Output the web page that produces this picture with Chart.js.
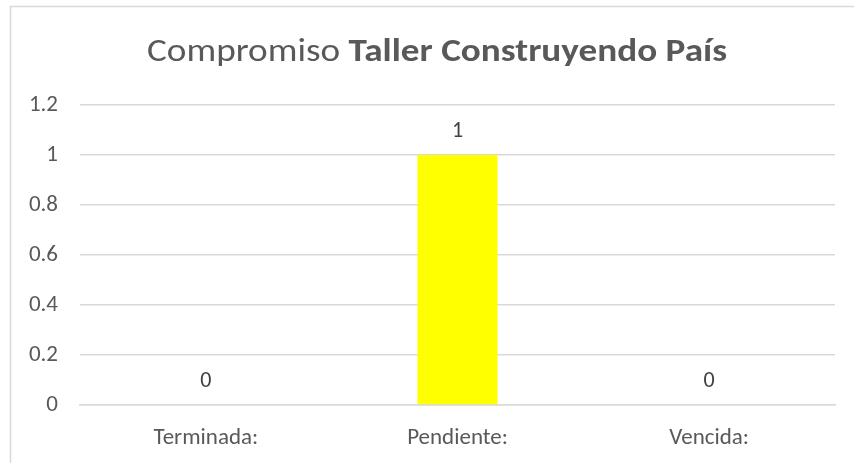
<!DOCTYPE html>
<html><head><meta charset="utf-8">
<script src="https://cdn.jsdelivr.net/npm/chart.js@4"></script>
<style>html,body{margin:0;padding:0;background:#fff}#wrap{width:854px;height:463px;position:relative}</style>
</head><body><div id="wrap"><canvas id="c" width="854" height="463"></canvas></div>
<script>
const categories = ['Terminada:', 'Pendiente:', 'Vencida:'];
const values = [0, 1, 0];
const titleNormal = 'Compromiso ';
const titleBold = 'Taller Construyendo País';
const FONT = "Carlito, Lato, 'Liberation Sans', sans-serif";

const decor = {
  id: 'decor',
  beforeDraw(chart) {
    const ctx = chart.ctx;
    ctx.save();
    ctx.strokeStyle = '#d9d9d9';
    ctx.lineWidth = 1.5;
    ctx.beginPath();
    ctx.moveTo(10.5, 470);
    ctx.lineTo(10.5, 6.5);
    ctx.lineTo(860, 6.5);
    ctx.stroke();
    ctx.restore();
  },
  afterDraw(chart) {
    const ctx = chart.ctx;
    ctx.save();
    const size = 33;
    const target = 580;
    ctx.font = `${size}px ${FONT}`;
    const w1 = ctx.measureText(titleNormal).width;
    ctx.font = `bold ${size}px ${FONT}`;
    const w2 = ctx.measureText(titleBold).width;
    const sx = target / (w1 + w2);
    const x0 = 147;
    ctx.fillStyle = '#595959';
    ctx.textBaseline = 'alphabetic';
    ctx.textAlign = 'left';
    ctx.translate(x0, 61);
    ctx.scale(sx, 1);
    ctx.font = `${size}px ${FONT}`;
    ctx.fillText(titleNormal, 0, 0);
    ctx.font = `bold ${size}px ${FONT}`;
    ctx.fillText(titleBold, w1, 0);
    ctx.restore();
    // data labels
    ctx.save();
    const meta = chart.getDatasetMeta(0);
    ctx.fillStyle = '#404040';
    ctx.font = `22px ${FONT}`;
    ctx.textAlign = 'center';
    ctx.textBaseline = 'middle';
    meta.data.forEach((bar, i) => {
      ctx.fillText(String(values[i]), bar.x, bar.y - 24);
    });
    ctx.restore();
  }
};

new Chart(document.getElementById('c'), {
  type: 'bar',
  data: {
    labels: categories,
    datasets: [{ data: values, backgroundColor: '#ffff00', borderWidth: 0,
      categoryPercentage: 1, barPercentage: 0.318 }]
  },
  options: {
    responsive: false,
    animation: false,
    layout: { padding: { top: 105, right: 19, left: 0, bottom: 0 } },
    plugins: { legend: { display: false }, tooltip: { enabled: false }, title: { display: false } },
    scales: {
      x: {
        grid: { display: false, drawTicks: false },
        border: { display: true, color: '#d9d9d9', width: 1.5 },
        ticks: { color: '#595959', font: { family: FONT, size: 23 }, padding: 19 },
        afterFit(s) { s.height = 58; }
      },
      y: {
        min: 0, max: 1.2,
        grid: { color: '#d9d9d9', lineWidth: 1.5, drawTicks: false },
        border: { display: false },
        ticks: { stepSize: 0.2, color: '#595959', font: { family: FONT, size: 23 }, padding: 22,
          callback: v => String(Math.round(v * 10) / 10) },
        afterFit(s) { s.width = 80; }
      }
    }
  },
  plugins: [decor]
});
</script></body></html>
